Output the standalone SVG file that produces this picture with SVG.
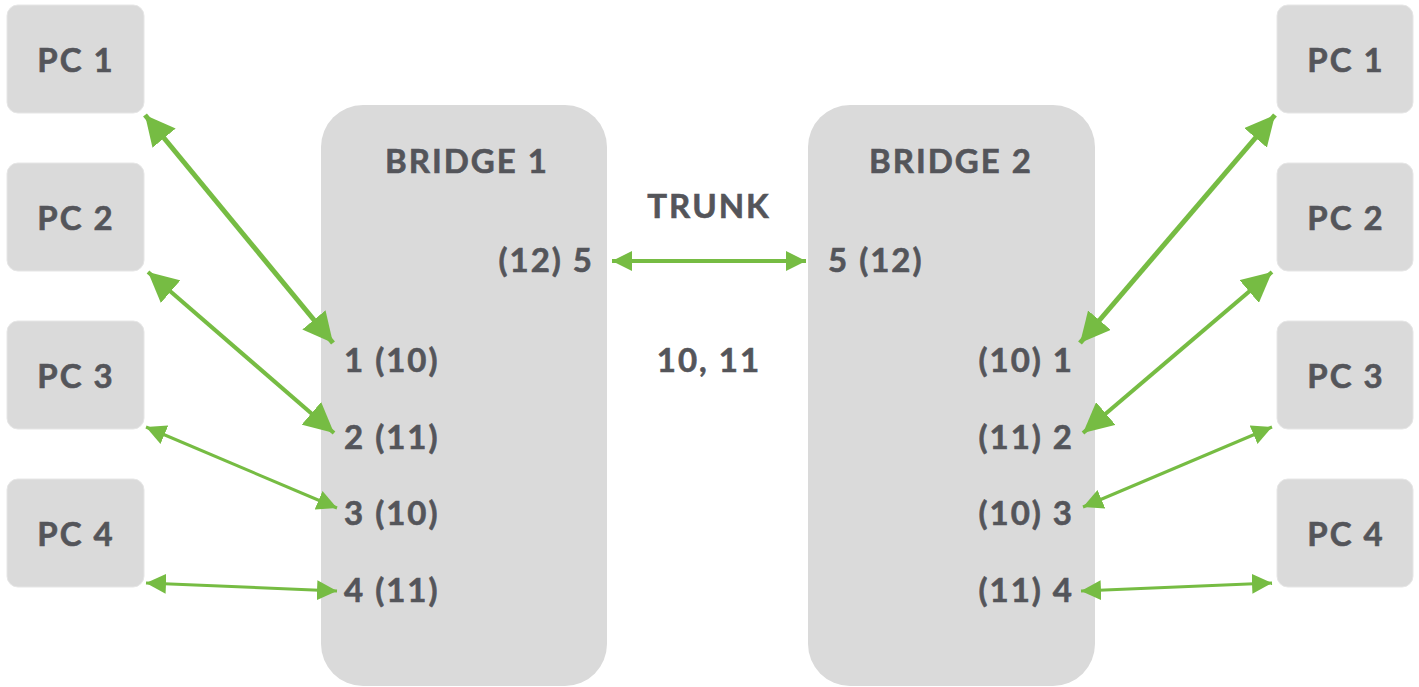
<svg xmlns="http://www.w3.org/2000/svg" width="1419" height="687" viewBox="0 0 1419 687">
<style>
.pc{fill:#dadada;stroke:#e6e6e6;stroke-width:1}
.br{fill:#dadada}
text{font-family:Lato,"Source Sans Pro","Noto Sans",sans-serif;font-weight:700;fill:#54555a;stroke:#54555a;stroke-width:0.6px;font-size:33px;letter-spacing:2px}
.c{text-anchor:middle}
.e{text-anchor:end}
.ln{stroke:#76bc43;fill:none;marker-start:url(#ah);marker-end:url(#ah)}
.big{marker-start:url(#ahb);marker-end:url(#ahb)}
</style>
<defs>
<marker id="ah" viewBox="0 0 10 10" refX="10" refY="5" markerUnits="userSpaceOnUse" markerWidth="20" markerHeight="22" orient="auto-start-reverse"><path d="M0,0 L10,5 L0,10 Z" fill="#76bc43"/></marker>
<marker id="ahb" viewBox="0 0 10 10" refX="10" refY="5" markerUnits="userSpaceOnUse" markerWidth="30" markerHeight="30" orient="auto-start-reverse"><path d="M0,0 L10,5 L0,10 Z" fill="#76bc43"/></marker>
</defs>
<g id="pc1-left"><rect class="pc" x="7" y="5" width="137" height="108" rx="11"/><text class="c" x="76" y="72">PC 1</text></g>
<g id="pc2-left"><rect class="pc" x="7" y="163" width="137" height="108" rx="11"/><text class="c" x="76" y="230">PC 2</text></g>
<g id="pc3-left"><rect class="pc" x="7" y="321" width="137" height="108" rx="11"/><text class="c" x="76" y="388">PC 3</text></g>
<g id="pc4-left"><rect class="pc" x="7" y="479" width="137" height="108" rx="11"/><text class="c" x="76" y="546">PC 4</text></g>
<g id="pc1-right"><rect class="pc" x="1277" y="5" width="136" height="108" rx="11"/><text class="c" x="1346" y="72">PC 1</text></g>
<g id="pc2-right"><rect class="pc" x="1277" y="163" width="136" height="108" rx="11"/><text class="c" x="1346" y="230">PC 2</text></g>
<g id="pc3-right"><rect class="pc" x="1277" y="321" width="136" height="108" rx="11"/><text class="c" x="1346" y="388">PC 3</text></g>
<g id="pc4-right"><rect class="pc" x="1277" y="479" width="136" height="108" rx="11"/><text class="c" x="1346" y="546">PC 4</text></g>
<g id="bridge1">
<rect class="br" x="321" y="105" width="286" height="581" rx="42"/>
<text class="c" x="467" y="173">BRIDGE 1</text>
<text class="e" x="594" y="272">(12) 5</text>
<text x="344" y="372">1 (10)</text>
<text x="344" y="449">2 (11)</text>
<text x="344" y="525">3 (10)</text>
<text x="344" y="602">4 (11)</text>
</g>
<g id="bridge2">
<rect class="br" x="808" y="105" width="287" height="581" rx="42"/>
<text class="c" x="951" y="173">BRIDGE 2</text>
<text x="828" y="272">5 (12)</text>
<text class="e" x="1074" y="372">(10) 1</text>
<text class="e" x="1074" y="449">(11) 2</text>
<text class="e" x="1074" y="525">(10) 3</text>
<text class="e" x="1074" y="602">(11) 4</text>
</g>
<g id="labels">
<text class="c" x="709" y="218">TRUNK</text>
<text class="c" x="709" y="372">10, 11</text>
</g>
<g id="connectors">
<line class="ln" x1="612" y1="261" x2="806" y2="261" stroke-width="4"/>
<line class="ln big" x1="145" y1="115" x2="333" y2="343" stroke-width="5"/>
<line class="ln big" x1="148" y1="272" x2="334" y2="433" stroke-width="4"/>
<line class="ln" x1="146" y1="427" x2="337" y2="508" stroke-width="3"/>
<line class="ln" x1="146" y1="583" x2="337" y2="591" stroke-width="3"/>
<line class="ln big" x1="1080" y1="343" x2="1275" y2="115" stroke-width="5"/>
<line class="ln big" x1="1083" y1="433" x2="1272" y2="272" stroke-width="4"/>
<line class="ln" x1="1083" y1="507" x2="1272" y2="427" stroke-width="3"/>
<line class="ln" x1="1081" y1="591" x2="1272" y2="583" stroke-width="3"/>
</g>
</svg>
